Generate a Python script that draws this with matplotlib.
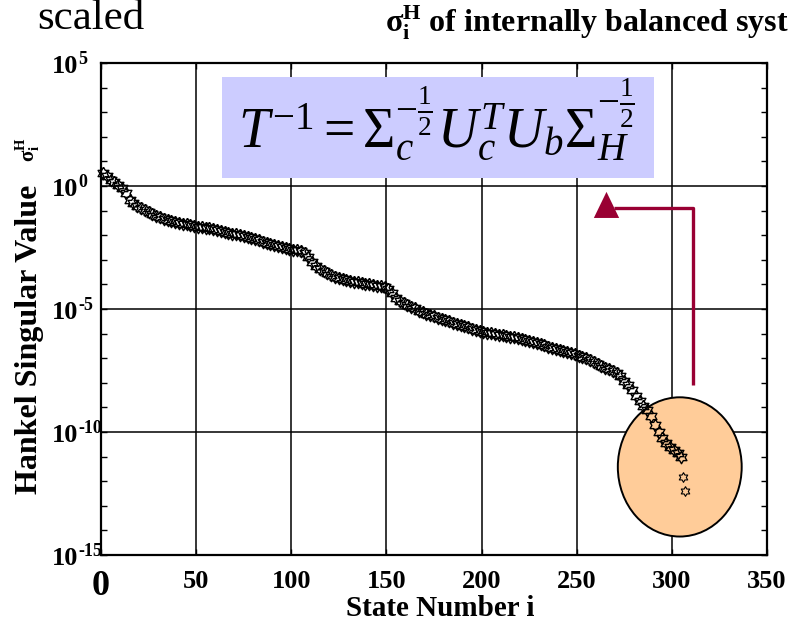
import numpy as np
import matplotlib
matplotlib.use('Agg')
import matplotlib.pyplot as plt
import matplotlib.patches as patches
from matplotlib.ticker import FixedLocator, NullFormatter

plt.rcParams['font.family'] = ['Liberation Serif', 'DejaVu Serif']
plt.rcParams['mathtext.fontset'] = 'custom'
plt.rcParams['mathtext.rm'] = 'Liberation Serif'
plt.rcParams['mathtext.it'] = 'Liberation Serif:italic'
plt.rcParams['mathtext.bf'] = 'Liberation Serif:bold'

# state number (every second state) and log10 of the Hankel singular value
state_idx = list(range(1, 306, 2))
log_sigma = [
    0.52, 0.40, 0.26, 0.15, 0.04, -0.09, -0.30, -0.55, -0.70, -0.80,
    -0.90, -0.98, -1.06, -1.14, -1.21, -1.28, -1.33, -1.38, -1.42, -1.46,
    -1.49, -1.53, -1.56, -1.60, -1.63, -1.65, -1.67, -1.69, -1.71, -1.73,
    -1.77, -1.81, -1.86, -1.90, -1.94, -1.97, -2.01, -2.04, -2.08, -2.12,
    -2.16, -2.21, -2.26, -2.31, -2.36, -2.40, -2.44, -2.49, -2.53, -2.57,
    -2.59, -2.61, -2.63, -2.72, -2.90, -3.10, -3.27, -3.37, -3.46, -3.55,
    -3.62, -3.68, -3.74, -3.79, -3.83, -3.86, -3.89, -3.92, -3.95, -3.97,
    -3.99, -4.02, -4.05, -4.08, -4.12, -4.19, -4.35, -4.55, -4.68, -4.77,
    -4.84, -4.92, -4.98, -5.07, -5.13, -5.19, -5.24, -5.30, -5.35, -5.40,
    -5.45, -5.50, -5.55, -5.60, -5.65, -5.70, -5.75, -5.80, -5.85, -5.90,
    -5.93, -5.96, -5.99, -6.02, -6.05, -6.07, -6.10, -6.12, -6.14, -6.17,
    -6.21, -6.25, -6.29, -6.33, -6.38, -6.43, -6.48, -6.53, -6.58, -6.62,
    -6.66, -6.71, -6.76, -6.80, -6.85, -6.90, -6.95, -7.00, -7.07, -7.16,
    -7.24, -7.31, -7.38, -7.45, -7.52, -7.59, -7.74, -7.92, -8.09, -8.30,
    -8.52, -8.73, -8.95, -9.12, -9.35, -9.72, -10.00, -10.26, -10.45, -10.60,
    -10.73, -10.86, -11.00,
]
# the two last states drop off the chain
tail_idx = [306, 307]
tail_log = [-11.82, -12.40]

x_ticks = [0, 50, 100, 150, 200, 250, 300, 350]
x_tick_labels = ['0', '50', '100', '150', '200', '250', '300', '350']
y_major_exp = [-15, -10, -5, 0, 5]
y_minor_exp = list(range(-15, 6))

# hexagram marker
ang_out = np.deg2rad(90 + 60 * np.arange(6))
ang_in = ang_out + np.deg2rad(30)
r_in = 1 / np.sqrt(3)
star = []
for a, b in zip(ang_out, ang_in):
    star.append((np.cos(a), np.sin(a)))
    star.append((r_in * np.cos(b), r_in * np.sin(b)))
star.append(star[0])

fig = plt.figure(figsize=(7.94, 6.21), dpi=100)
ax = fig.add_axes([0.1272, 0.1063, 0.8388, 0.7923])

ax.set_yscale('log')
ax.set_xlim(0, 350)
ax.set_ylim(1e-15, 1e5)

ax.xaxis.set_major_locator(FixedLocator(x_ticks))
ax.set_xticklabels(x_tick_labels, fontsize=19, fontweight='bold')
first = ax.get_xticklabels()[0]
first.set_fontsize(26)
first.set_va('top')

ax.yaxis.set_major_locator(FixedLocator([10.0 ** e for e in y_major_exp]))
ax.yaxis.set_minor_locator(FixedLocator([10.0 ** e for e in y_minor_exp]))
ax.yaxis.set_minor_formatter(NullFormatter())
ax.set_yticklabels([])

# y tick labels written as "10" with a raised exponent
for e in y_major_exp:
    ax.annotate('10', xy=(0, 10.0 ** e), xycoords=('axes fraction', 'data'),
                xytext=(-49, -4), textcoords='offset pixels', ha='left', va='center',
                fontsize=19, fontweight='bold', annotation_clip=False)
    ax.annotate(str(e), xy=(0, 10.0 ** e), xycoords=('axes fraction', 'data'),
                xytext=(-23, -1), textcoords='offset pixels', ha='left', va='baseline',
                fontsize=13, fontweight='bold', annotation_clip=False)

ax.tick_params(axis='both', which='both', direction='in', top=True, right=True, width=1.0)
ax.tick_params(axis='y', which='both', length=4)
ax.tick_params(axis='x', which='major', length=4, pad=11)
for s in ax.spines.values():
    s.set_linewidth(1.6)

ax.grid(True, which='major', color='black', linewidth=1.1)
ax.set_axisbelow(True)

# orange circle around the tail
ell = patches.Ellipse((0.869, 0.179), 0.186, 0.283, transform=ax.transAxes,
                      facecolor='#FFCC99', edgecolor='black', linewidth=1.4, zorder=1)
ax.add_patch(ell)

ax.plot(state_idx, 10.0 ** np.array(log_sigma), linestyle='none', marker=star,
        markersize=9, markerfacecolor='none', markeredgecolor='black',
        markeredgewidth=1.0, zorder=3, clip_on=False)
ax.plot(tail_idx, 10.0 ** np.array(tail_log), linestyle='none', marker=star,
        markersize=7, markerfacecolor='none', markeredgecolor='black',
        markeredgewidth=0.8, zorder=3, clip_on=False)

# formula box
box = patches.Rectangle((0.182, 0.766), 0.648, 0.206, transform=ax.transAxes,
                        facecolor='#CCCCFF', edgecolor='none', zorder=4)
ax.add_patch(box)
ax.text(0.503, 0.827,
        r'$T^{-1} = \Sigma_c^{-\frac{1}{2}} U_c^T U_b \Sigma_H^{-\frac{1}{2}}$',
        transform=ax.transAxes, ha='center', va='baseline', fontsize=40, zorder=5)

# crimson arrow from the circle to the formula
arrow_col = '#990033'
ax.plot([0.889, 0.889, 0.770], [0.3455, 0.705, 0.705], transform=ax.transAxes,
        color=arrow_col, linewidth=2.4, solid_capstyle='butt', zorder=4, clip_on=False)
head = patches.Polygon([(0.740, 0.685), (0.778, 0.685), (0.759, 0.738)], closed=True,
                       transform=ax.transAxes, facecolor=arrow_col, edgecolor='none', zorder=4)
ax.add_patch(head)

fig.text(37 / 794, 1 - 29 / 621, 'scaled', fontsize=31, va='baseline', ha='left')
fig.text(385 / 794, 1 - 33 / 621,
         r'$\mathbf{\sigma_i^H}$ of internally balanced syst',
         fontsize=23, fontweight='bold', va='baseline', ha='left')
fig.text(440 / 794, 1 - 609 / 621, 'State Number i', fontsize=21, fontweight='bold',
         ha='center', va='center')
fig.text(30 / 794, 1 - 339 / 621, 'Hankel Singular Value', fontsize=23, fontweight='bold',
         rotation=90, ha='center', va='center')
fig.text(28 / 794, 1 - 150 / 621, r'$\mathbf{\sigma^{H}_{i}}$', fontsize=15,
         rotation=90, ha='center', va='center')

fig.savefig('out.png', dpi=100)
